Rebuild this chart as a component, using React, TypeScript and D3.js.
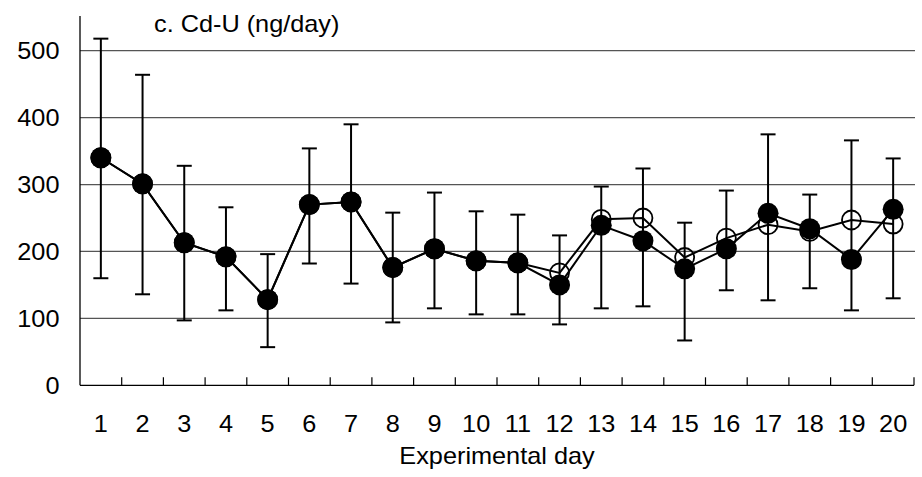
import React from "react";
import * as d3 from "d3";

const days = [1, 2, 3, 4, 5, 6, 7, 8, 9, 10, 11, 12, 13, 14, 15, 16, 17, 18, 19, 20];
const filledSeries = [340, 301, 213, 192, 128, 270, 274, 176, 204, 186, 183, 150, 239, 216, 174, 204, 257, 234, 188, 263];
const openSeries = [340, 301, 213, 192, 128, 270, 274, 176, 204, 186, 183, 168, 248, 250, 191, 220, 240, 230, 247, 241];
const errUpper = [518, 464, 328, 266, 196, 354, 390, 258, 288, 260, 255, 224, 297, 324, 243, 291, 375, 285, 366, 339];
const errLower = [160, 136, 97, 112, 57, 182, 152, 94, 115, 106, 106, 91, 115, 118, 67, 142, 127, 145, 112, 130];
const yTicks = [0, 100, 200, 300, 400, 500];

const W = 922;
const H = 477;
const left = 80;
const right = 914;
const y0 = 385.3;
const y500 = 50.7;

function T(props: { x: number; y: number; anchor?: string; children: React.ReactNode }) {
  return (
    <text
      transform={`translate(${props.x},${props.y}) scale(1.1,1)`}
      textAnchor={props.anchor || "start"}
      fontSize={23}
      fill="#000"
    >
      {props.children}
    </text>
  );
}

export default function App() {
  const x = d3.scaleBand<number>().domain(days).range([left, right]).padding(0);
  const y = d3.scaleLinear().domain([0, 500]).range([y0, y500]);
  const cx = (d: number) => (x(d) as number) + x.bandwidth() / 2;
  const line = d3
    .line<number>()
    .x((_, i) => cx(days[i]))
    .y((v) => y(v));
  const font = "'Liberation Sans', Arial, sans-serif";
  const cap = 7.5;

  return (
    <svg
      width={W}
      height={H}
      style={{ position: "absolute", left: 0, top: 0, background: "#fff" }}
      fontFamily={font}
    >
      <rect width={W} height={H} fill="#fff" />
      {yTicks
        .filter((t) => t > 0)
        .map((t) => (
          <line key={t} x1={left} x2={right + 1} y1={y(t)} y2={y(t)} stroke="#555" strokeWidth={1.3} />
        ))}
      <line x1={left} x2={left} y1={16} y2={y0} stroke="#000" strokeWidth={1.3} />
      <line x1={left} x2={right} y1={y0} y2={y0} stroke="#000" strokeWidth={1.3} />
      {days.map((d) => {
        const xt = (x(d) as number) + x.bandwidth();
        return <line key={"t" + d} x1={xt} x2={xt} y1={y0} y2={y0 - 8} stroke="#000" strokeWidth={1.2} />;
      })}
      {yTicks.map((t) => (
        <T key={"yl" + t} x={59.5} y={y(t) + 8.3} anchor="end">
          {t}
        </T>
      ))}
      {days.map((d) => (
        <T key={"xl" + d} x={cx(d)} y={431.5} anchor="middle">
          {d}
        </T>
      ))}
      <T x={(left + right) / 2} y={464} anchor="middle">
        Experimental day
      </T>
      <T x={154} y={31.5}>
        c. Cd-U (ng/day)
      </T>
      {days.map((d, i) => (
        <g key={"e" + d} stroke="#000" strokeWidth={2}>
          <line x1={cx(d)} x2={cx(d)} y1={y(errUpper[i])} y2={y(errLower[i])} />
          <line x1={cx(d) - cap} x2={cx(d) + cap} y1={y(errUpper[i])} y2={y(errUpper[i])} />
          <line x1={cx(d) - cap} x2={cx(d) + cap} y1={y(errLower[i])} y2={y(errLower[i])} />
        </g>
      ))}
      <path d={line(openSeries) || ""} fill="none" stroke="#000" strokeWidth={2} />
      <path d={line(filledSeries) || ""} fill="none" stroke="#000" strokeWidth={2} />
      {days.map((d, i) => (
        <circle key={"o" + d} cx={cx(d)} cy={y(openSeries[i])} r={9.5} fill="none" stroke="#000" strokeWidth={1.8} />
      ))}
      {days.map((d, i) => (
        <circle key={"f" + d} cx={cx(d)} cy={y(filledSeries[i])} r={10.5} fill="#000" />
      ))}
    </svg>
  );
}
